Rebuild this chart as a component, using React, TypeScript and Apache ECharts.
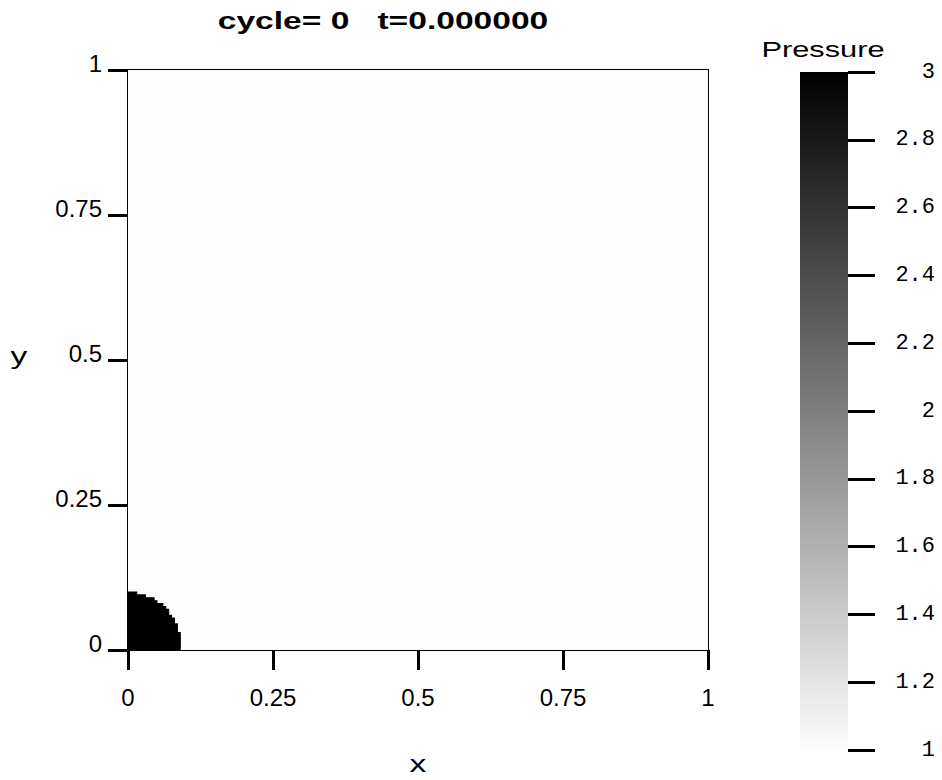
import React, { useEffect, useRef } from "react";
import * as echarts from "echarts";

// ---- data ----
const titleText = "cycle= 0   t=0.000000";
const fieldName = "Pressure";
const xName = "x";
const yName = "y";
const cellSize = 0.005; // simulation cell size in domain units
// number of dark cells along x for each cell row, counted from y = 0 upwards
const rowExtentCells = [18, 18, 18, 18, 18, 18, 17, 17, 17, 16, 16, 15, 14, 14, 13, 12, 10, 9, 6, 3];
const diskPressure = 3;
const ambientPressure = 1;
const pressureMin = 1;
const pressureMax = 3;
const pressureStep = 0.2;
const domainTicksStep = 0.25;
const grayRamp = ["#fdfdfd", "#000000"];

export default function App() {
  const ref = useRef<HTMLDivElement>(null);
  useEffect(() => {
    if (!ref.current) return;
    const chart = echarts.init(ref.current, null, { renderer: "svg" });

    const cells: number[][] = [[0, 0, 1, 1, ambientPressure]];
    rowExtentCells.forEach((n, j) => {
      cells.push([0, j * cellSize, n * cellSize, (j + 1) * cellSize, diskPressure]);
    });

    const rectItem = (params: any, api: any) => {
      const p0 = api.coord([api.value(0), api.value(1)]);
      const p1 = api.coord([api.value(2), api.value(3)]);
      const c = api.visual("color");
      const isCell = params.dataIndex > 0;
      return {
        type: "rect",
        shape: { x: p0[0], y: p1[1], width: p1[0] - p0[0], height: p0[1] - p1[1] },
        style: { fill: c, stroke: isCell ? c : null, lineWidth: isCell ? 1.1 : 0 },
      };
    };

    const sans = "Liberation Sans";
    const stretched = (text: string, x: number, y: number, size: number, bold = false) => ({
      type: "text",
      x,
      y,
      scaleX: 1.4,
      z: 100,
      style: {
        text,
        fontFamily: sans,
        fontSize: size,
        fontWeight: bold ? "bold" : "normal",
        fill: "#000",
        align: "center",
        verticalAlign: "middle",
      },
    });

    chart.setOption({
      animation: false,
      backgroundColor: "#ffffff",
      visualMap: {
        show: false,
        type: "continuous",
        min: pressureMin,
        max: pressureMax,
        dimension: 4,
        seriesIndex: 0,
        inRange: { color: grayRamp },
      },
      graphic: [
        stretched(titleText, 383, 21, 24, true),
        stretched(fieldName, 823, 50, 22),
        stretched(xName, 418, 764, 24),
        stretched(yName, 19, 356, 24),
      ],
      grid: [
        { left: 128, top: 70, width: 580, height: 580, show: true, borderColor: "#000", borderWidth: 2, backgroundColor: "transparent" },
        { left: 800, top: 72, width: 48, height: 678, show: false },
      ],
      xAxis: [
        {
          gridIndex: 0,
          type: "value",
          min: 0,
          max: 1,
          interval: domainTicksStep,
          axisLine: { show: true, onZero: false, lineStyle: { color: "#000", width: 2 } },
          axisTick: { show: true, inside: false, length: 20, lineStyle: { color: "#000", width: 3 } },
          axisLabel: { margin: 35, fontFamily: sans, fontSize: 24, color: "#000" },
          splitLine: { show: false },
        },
        { gridIndex: 1, type: "value", min: 0, max: 1, show: false },
      ],
      yAxis: [
        {
          gridIndex: 0,
          type: "value",
          min: 0,
          max: 1,
          interval: domainTicksStep,
          axisLine: { show: true, onZero: false, lineStyle: { color: "#000", width: 2 } },
          axisTick: { show: true, inside: false, length: 20, lineStyle: { color: "#000", width: 3 } },
          axisLabel: { margin: 26, fontFamily: sans, fontSize: 24, color: "#000", verticalAlign: "bottom", lineHeight: 14 },
          splitLine: { show: false },
        },
        {
          gridIndex: 1,
          type: "value",
          position: "right",
          z: 10,
          min: pressureMin,
          max: pressureMax,
          interval: pressureStep,
          axisLine: { show: false, onZero: false },
          axisTick: { show: true, inside: false, length: 27, lineStyle: { color: "#000", width: 3 } },
          axisLabel: {
            margin: 87,
            align: "right",
            fontFamily: "Liberation Mono",
            fontSize: 22,
            color: "#000",
            formatter: (v: number) => String(Math.round(v * 10) / 10),
          },
          splitLine: { show: false },
        },
      ],
      series: [
        {
          type: "custom",
          xAxisIndex: 0,
          yAxisIndex: 0,
          clip: true,
          data: cells,
          renderItem: rectItem,
        },
        {
          type: "custom",
          xAxisIndex: 1,
          yAxisIndex: 1,
          z: 1,
          data: [[0, pressureMin, 1, pressureMax]],
          renderItem: (params: any, api: any) => {
            const p0 = api.coord([api.value(0), api.value(1)]);
            const p1 = api.coord([api.value(2), api.value(3)]);
            return {
              type: "rect",
              shape: { x: p0[0], y: p1[1], width: p1[0] - p0[0], height: p0[1] - p1[1] },
              style: {
                fill: new echarts.graphic.LinearGradient(0, 1, 0, 0, [
                  { offset: 0, color: grayRamp[0] },
                  { offset: 1, color: grayRamp[1] },
                ]),
              },
            };
          },
        },
      ],
    });
    return () => chart.dispose();
  }, []);
  return <div ref={ref} style={{ position: "fixed", left: 0, top: 0, width: 942, height: 780 }} />;
}
